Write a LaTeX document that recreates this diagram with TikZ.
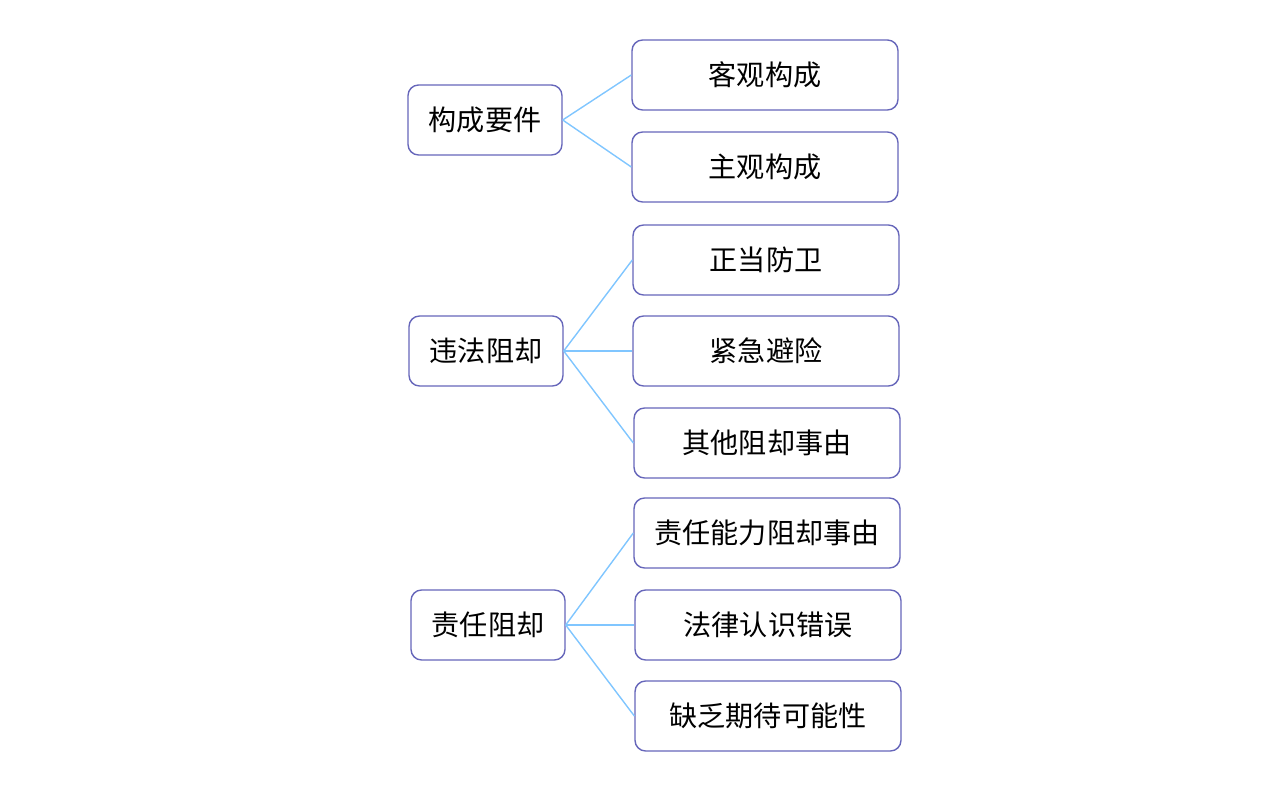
\documentclass[tikz,border=0pt]{standalone}
\usepackage{fontspec}
\newfontfamily\cjk{Noto Sans CJK SC}
\usetikzlibrary{positioning}
\tikzstyle{catnode} = [draw=black!45!blue!60, rounded corners=6pt, line width=0.8pt, minimum width=3.08cm, minimum height=1.4cm, font=\cjk\fontsize{16}{18}\selectfont]
\tikzstyle{itemnode} = [catnode, minimum width=5.32cm]
\tikzstyle{link} = [draw=blue!45!cyan!50, line width=0.8pt]
\begin{document}
\begin{tikzpicture}[x=0.02cm, y=-0.02cm]
    \useasboundingbox (0,0) rectangle (1279,800);
    \node[catnode] (goucheng) at (485,120) {构成要件};
    \node[catnode] (weifa) at (486,351) {违法阻却};
    \node[catnode] (zeren) at (488,625) {责任阻却};
    \node[itemnode] (keguan) at (765,75) {客观构成};
    \node[itemnode] (zhuguan) at (765,167) {主观构成};
    \node[itemnode] (fangwei) at (766,260) {正当防卫};
    \node[itemnode] (bixian) at (766,351) {紧急避险};
    \node[itemnode] (qita) at (767,443) {其他阻却事由};
    \node[itemnode] (nengli) at (767,533) {责任能力阻却事由};
    \node[itemnode] (cuowu) at (768,625) {法律认识错误};
    \node[itemnode] (qidai) at (768,716) {缺乏期待可能性};
    \foreach \a/\b in {goucheng/keguan, goucheng/zhuguan, weifa/fangwei, weifa/bixian, weifa/qita, zeren/nengli, zeren/cuowu, zeren/qidai}
        \draw[link] (\a.east) -- (\b.west);
\end{tikzpicture}
\end{document}
